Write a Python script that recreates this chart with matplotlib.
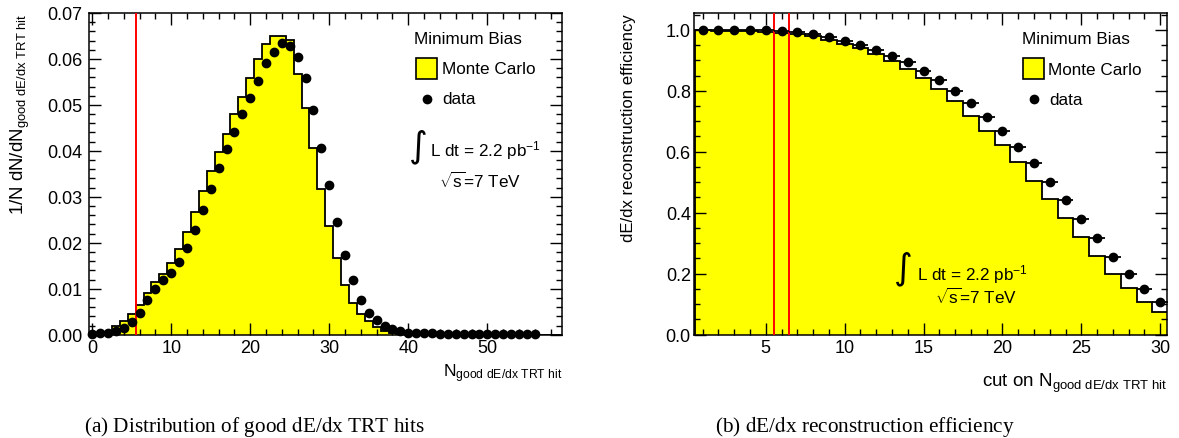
import matplotlib
matplotlib.use("Agg")
import matplotlib.pyplot as plt
from matplotlib.patches import Rectangle
import numpy as np

plt.rcParams['font.family'] = ['Liberation Sans', 'DejaVu Sans']
plt.rcParams['mathtext.fontset'] = 'custom'
plt.rcParams['mathtext.rm'] = 'Liberation Sans'
plt.rcParams['mathtext.it'] = 'Liberation Sans:italic'
plt.rcParams['mathtext.bf'] = 'Liberation Sans:bold'
plt.rcParams['mathtext.default'] = 'regular'

# ---- (a) normalised distribution of good dE/dx TRT hits ----
hits_mc = [0.0000, 0.0001, 0.0005, 0.0018, 0.0029, 0.0045, 0.0065, 0.0090, 0.0114, 0.0133,
           0.0157, 0.0186, 0.0224, 0.0267, 0.0313, 0.0357, 0.0398, 0.0437, 0.0480, 0.0518,
           0.0559, 0.0600, 0.0632, 0.0651, 0.0650, 0.0642, 0.0568, 0.0493, 0.0406, 0.0317,
           0.0237, 0.0167, 0.0109, 0.0070, 0.0045, 0.0029, 0.0017, 0.0009, 0.0004, 0.0002,
           0.0001, 0.0000, 0.0000, 0.0000, 0.0000, 0.0000, 0.0000, 0.0000, 0.0000, 0.0000,
           0.0000, 0.0000, 0.0000, 0.0000, 0.0000, 0.0000, 0.0000, 0.0000, 0.0000, 0.0000]
hits_data = [0.0002, 0.0003, 0.0004, 0.0008, 0.0015, 0.0028, 0.0048, 0.0075, 0.0100, 0.0118,
             0.0134, 0.0159, 0.0189, 0.0228, 0.0272, 0.0316, 0.0363, 0.0403, 0.0442, 0.0480,
             0.0514, 0.0553, 0.0591, 0.0616, 0.0634, 0.0628, 0.0605, 0.0558, 0.0490, 0.0406,
             0.0325, 0.0245, 0.0173, 0.0118, 0.0076, 0.0048, 0.0031, 0.0019, 0.0012, 0.0007,
             0.0004, 0.0004, 0.0003, 0.0003, 0.0002, 0.0002, 0.0002, 0.0002, 0.0002, 0.0002,
             0.0002, 0.0002, 0.0002, 0.0002, 0.0002, 0.0002, 0.0002]
hits_cut = [5.5]

# ---- (b) efficiency versus cut on the number of good hits ----
eff_mc = [0.998, 0.997, 0.996, 0.995, 0.993, 0.990, 0.985, 0.978, 0.968, 0.954,
          0.939, 0.920, 0.898, 0.871, 0.841, 0.806, 0.767, 0.718, 0.669, 0.623,
          0.565, 0.505, 0.445, 0.382, 0.319, 0.259, 0.199, 0.152, 0.106, 0.073]
eff_data = [1.000, 1.000, 1.000, 0.999, 0.998, 0.997, 0.993, 0.986, 0.977, 0.964,
            0.951, 0.934, 0.915, 0.893, 0.866, 0.835, 0.798, 0.759, 0.715, 0.669,
            0.616, 0.562, 0.502, 0.442, 0.379, 0.316, 0.256, 0.199, 0.150, 0.108]
eff_cuts = [5.5, 6.5]

yticks_a = [0.00, 0.01, 0.02, 0.03, 0.04, 0.05, 0.06, 0.07]
yticks_b = [0.0, 0.2, 0.4, 0.6, 0.8, 1.0]

YELLOW = '#ffff00'
RED = '#ff0000'

W, H = 1179, 439
fig = plt.figure(figsize=(W / 100, H / 100), dpi=100)


def axes_px(x0, x1, ytop, ybot):
    return fig.add_axes([x0 / W, (H - ybot) / H, (x1 - x0) / W, (ybot - ytop) / H])


ax1 = axes_px(89, 562, 14, 335.7)
ax2 = axes_px(694.3, 1167.3, 14.3, 335.7)


def style(ax, ypad):
    for s in ax.spines.values():
        s.set_linewidth(1.1)
    ax.tick_params(which='both', direction='in', top=True, right=True, width=1.0,
                   labelsize=13)
    ax.tick_params(which='major', length=8.6)
    ax.tick_params(which='minor', length=4.3)
    ax.tick_params(axis='y', pad=ypad)
    ax.tick_params(axis='x', pad=3)


# panel (a)
n_a = len(hits_mc)
edges_a = np.arange(n_a + 1) - 0.5
ax1.stairs(hits_mc, edges_a, fill=True, facecolor=YELLOW, edgecolor='none', zorder=1)
ax1.stairs(hits_mc, edges_a, color='black', lw=1.3, zorder=2)
for c in hits_cut:
    ax1.axvline(c, color=RED, lw=1.4, zorder=3)
ax1.plot(np.arange(len(hits_data)), hits_data, 'o', color='black', ms=6, zorder=5,
         clip_on=False)
ax1.set_xlim(-0.4, 59.45)
ax1.set_ylim(0, 0.07)
ax1.set_xticks([0, 10, 20, 30, 40, 50])
ax1.set_xticks(np.arange(0, 60, 2), minor=True)
ax1.set_yticks(yticks_a)
ax1.set_yticklabels([f'{v:.2f}' for v in yticks_a])
ax1.set_yticks(np.arange(0, 0.0701, 0.002), minor=True)
style(ax1, 4.5)

ax1.text(1.0, -0.128, r'N$_{\mathregular{good\ dE/dx\ TRT\ hit}}$', transform=ax1.transAxes,
         ha='right', va='baseline', fontsize=12.5)
ax1.text(-0.145, 1.0, r'1/N dN/dN$_{\mathregular{good\ dE/dx\ TRT\ hit}}$',
         transform=ax1.transAxes, rotation=90, ha='center', va='top', fontsize=13.4)

# legend (a)
ax1.text(0.687, 0.921, 'Minimum Bias', transform=ax1.transAxes, ha='left', va='center',
         fontsize=12.3)
ax1.add_patch(Rectangle((0.691, 0.795), 0.045, 0.066, transform=ax1.transAxes,
                        facecolor=YELLOW, edgecolor='black', lw=1.2, zorder=6))
ax1.text(0.746, 0.826, 'Monte Carlo', transform=ax1.transAxes, ha='left', va='center',
         fontsize=12.3)
ax1.plot([0.714], [0.733], 'o', color='black', ms=6, transform=ax1.transAxes)
ax1.text(0.746, 0.733, 'data', transform=ax1.transAxes, ha='left', va='center',
         fontsize=12.3)
ax1.text(0.697, 0.588, '\u222b', transform=ax1.transAxes, ha='center', va='center',
         fontsize=26, family='DejaVu Sans')
ax1.text(0.721, 0.556, r'L dt = 2.2 pb$^{-1}$', transform=ax1.transAxes, ha='left',
         va='baseline', fontsize=12.3)
ax1.text(0.740, 0.459, r'$\sqrt{s}$=7 TeV', transform=ax1.transAxes, ha='left',
         va='baseline', fontsize=12.3)

# panel (b)
n_b = len(eff_mc)
edges_b = np.arange(n_b + 1) + 0.5
cuts_b = np.arange(1, n_b + 1)
ax2.stairs(eff_mc, edges_b, fill=True, facecolor=YELLOW, edgecolor='none', zorder=1)
ax2.stairs(eff_mc, edges_b, color='black', lw=1.3, zorder=2)
for c in eff_cuts:
    ax2.axvline(c, color=RED, lw=1.4, zorder=3)
ax2.errorbar(cuts_b, eff_data, xerr=0.5, fmt='o', color='black', ms=6, elinewidth=1.3,
             capsize=0, zorder=5, clip_on=False)
ax2.set_xlim(0.47, 30.45)
ax2.set_ylim(0, 1.054)
ax2.set_xticks([5, 10, 15, 20, 25, 30])
ax2.set_xticks(np.arange(1, 31, 1), minor=True)
ax2.set_yticks(yticks_b)
ax2.set_yticklabels([f'{v:.1f}' for v in yticks_b])
ax2.set_yticks(np.arange(0, 1.051, 0.05), minor=True)
style(ax2, 2.5)

ax2.text(1.0, -0.159, r'cut on N$_{\mathregular{good\ dE/dx\ TRT\ hit}}$',
         transform=ax2.transAxes, ha='right', va='baseline', fontsize=13.5)
ax2.text(-0.140, 1.0, 'dE/dx reconstruction efficiency', transform=ax2.transAxes,
         rotation=90, ha='center', va='top', fontsize=12.1)

# legend (b)
ax2.text(0.693, 0.921, 'Minimum Bias', transform=ax2.transAxes, ha='left', va='center',
         fontsize=12.3)
ax2.add_patch(Rectangle((0.695, 0.795), 0.045, 0.066, transform=ax2.transAxes,
                        facecolor=YELLOW, edgecolor='black', lw=1.2, zorder=6))
ax2.text(0.748, 0.826, 'Monte Carlo', transform=ax2.transAxes, ha='left', va='center',
         fontsize=12.3)
ax2.plot([0.718], [0.733], 'o', color='black', ms=6, transform=ax2.transAxes)
ax2.text(0.750, 0.733, 'data', transform=ax2.transAxes, ha='left', va='center',
         fontsize=12.3)
ax2.text(0.443, 0.209, '\u222b', transform=ax2.transAxes, ha='center', va='center',
         fontsize=26, family='DejaVu Sans', zorder=7)
ax2.text(0.471, 0.173, r'L dt = 2.2 pb$^{-1}$', transform=ax2.transAxes, ha='left',
         va='baseline', fontsize=12.3, zorder=7)
ax2.text(0.509, 0.098, r'$\sqrt{s}$=7 TeV', transform=ax2.transAxes, ha='left',
         va='baseline', fontsize=12.3, zorder=7)

# captions
fig.text(255 / W, 1 - 427 / H, r'(a) Distribution of good $\mathrm{d}E/\mathrm{d}x$ TRT hits',
         ha='center', va='center', fontsize=15.3, family='Liberation Serif',
         math_fontfamily='stix')
fig.text(865 / W, 1 - 427 / H, r'(b) $\mathrm{d}E/\mathrm{d}x$ reconstruction efficiency',
         ha='center', va='center', fontsize=15.3, family='Liberation Serif',
         math_fontfamily='stix')

fig.savefig('out.png', dpi=100)
